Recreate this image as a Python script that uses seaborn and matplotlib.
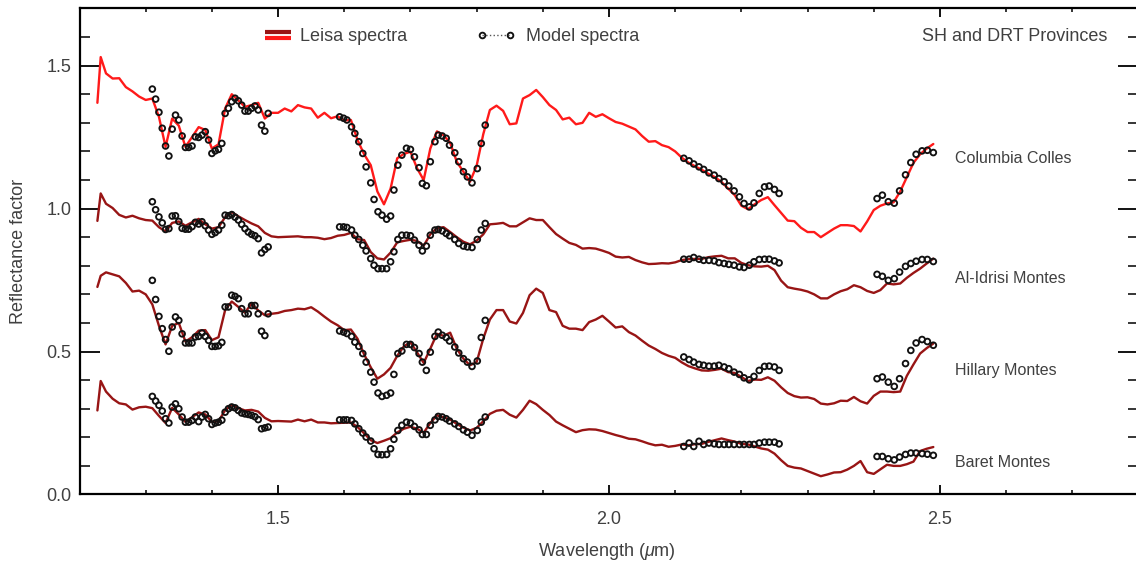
import numpy as np
import pandas as pd
import matplotlib
matplotlib.use("Agg")
import matplotlib.pyplot as plt
import seaborn as sns
from matplotlib.lines import Line2D
from matplotlib.legend_handler import HandlerBase
from matplotlib.ticker import MultipleLocator

# ---- data ----
regions = ["Columbia Colles", "Al-Idrisi Montes", "Hillary Montes", "Baret Montes"]

# LEISA wavelength samples (um)
leisa_wl = [1.227, 1.232,
            1.24, 1.25, 1.26, 1.27, 1.28, 1.29,
            1.30, 1.31, 1.32, 1.33, 1.34, 1.35, 1.36, 1.37, 1.38, 1.39,
            1.40, 1.41, 1.42, 1.43, 1.44, 1.45, 1.46, 1.47, 1.48, 1.49,
            1.50, 1.51, 1.52, 1.53, 1.54, 1.55, 1.56, 1.57, 1.58, 1.59,
            1.60, 1.61, 1.62, 1.63, 1.64, 1.65, 1.66, 1.67, 1.68, 1.69,
            1.70, 1.71, 1.72, 1.73, 1.74, 1.75, 1.76, 1.77, 1.78, 1.79,
            1.80, 1.81, 1.82, 1.83, 1.84, 1.85, 1.86, 1.87, 1.88, 1.89,
            1.90, 1.91, 1.92, 1.93, 1.94, 1.95, 1.96, 1.97, 1.98, 1.99,
            2.00, 2.01, 2.02, 2.03, 2.04, 2.05, 2.06, 2.07, 2.08, 2.09,
            2.10, 2.11, 2.12, 2.13, 2.14, 2.15, 2.16, 2.17, 2.18, 2.19,
            2.20, 2.21, 2.22, 2.23, 2.24, 2.25, 2.26, 2.27, 2.28, 2.29,
            2.30, 2.31, 2.32, 2.33, 2.34, 2.35, 2.36, 2.37, 2.38, 2.39,
            2.40, 2.41, 2.42, 2.43, 2.44, 2.45, 2.46, 2.47, 2.48, 2.49]

columbia_leisa = [1.37, 1.53,
                  1.473, 1.455, 1.456, 1.425, 1.41, 1.392,
                  1.38, 1.385, 1.321, 1.216, 1.315, 1.29, 1.216, 1.25, 1.285, 1.275,
                  1.21, 1.225, 1.35, 1.40, 1.378, 1.356, 1.362, 1.37, 1.315, 1.335,
                  1.335, 1.35, 1.34, 1.362, 1.354, 1.35, 1.318, 1.335, 1.316, 1.323,
                  1.308, 1.31, 1.24, 1.19, 1.152, 1.06, 1.015, 1.07, 1.176, 1.191,
                  1.199, 1.141, 1.10, 1.21, 1.27, 1.257, 1.23, 1.164, 1.129, 1.094,
                  1.15, 1.26, 1.345, 1.36, 1.342, 1.295, 1.298, 1.385, 1.397, 1.415,
                  1.39, 1.362, 1.345, 1.312, 1.318, 1.295, 1.30, 1.335, 1.321, 1.33,
                  1.316, 1.303, 1.297, 1.287, 1.277, 1.254, 1.234, 1.236, 1.222, 1.215,
                  1.20, 1.178, 1.161, 1.148, 1.136, 1.122, 1.11, 1.093, 1.07, 1.047,
                  1.01, 0.998, 1.015, 1.03, 1.04, 1.012, 0.985, 0.958, 0.956, 0.933,
                  0.918, 0.918, 0.90, 0.915, 0.93, 0.942, 0.942, 0.939, 0.92, 0.955,
                  0.995, 1.01, 1.018, 1.022, 1.06, 1.11, 1.16, 1.19, 1.21, 1.226]

idrisi_leisa = [0.957, 1.053,
                1.017, 1.002, 0.978, 0.969, 0.975, 0.966,
                0.96, 0.958, 0.935, 0.92, 0.95, 0.955, 0.94, 0.952, 0.964, 0.945,
                0.93, 0.935, 0.97, 0.988, 0.973, 0.96, 0.948, 0.938, 0.915, 0.903,
                0.90, 0.901, 0.902, 0.903, 0.90, 0.90, 0.898, 0.893, 0.897, 0.905,
                0.908, 0.915, 0.893, 0.89, 0.848, 0.826, 0.822, 0.846, 0.882, 0.887,
                0.891, 0.887, 0.87, 0.91, 0.932, 0.935, 0.918, 0.90, 0.884, 0.875,
                0.888, 0.91, 0.945, 0.947, 0.95, 0.938, 0.938, 0.952, 0.966, 0.96,
                0.96, 0.935, 0.911, 0.895, 0.88, 0.873, 0.86, 0.862, 0.86, 0.853,
                0.845, 0.832, 0.829, 0.831, 0.82, 0.812, 0.806, 0.807, 0.809, 0.808,
                0.812, 0.82, 0.823, 0.824, 0.824, 0.83, 0.833, 0.835, 0.826, 0.826,
                0.81, 0.802, 0.798, 0.797, 0.80, 0.785, 0.748, 0.725, 0.72, 0.716,
                0.71, 0.70, 0.686, 0.686, 0.70, 0.711, 0.718, 0.732, 0.725, 0.712,
                0.705, 0.715, 0.738, 0.735, 0.738, 0.758, 0.775, 0.79, 0.808, 0.825]

hillary_leisa = [0.726, 0.765,
                 0.777, 0.77, 0.763, 0.74, 0.71, 0.713,
                 0.70, 0.665, 0.59, 0.525, 0.59, 0.60, 0.535, 0.55, 0.573, 0.575,
                 0.54, 0.55, 0.645, 0.675, 0.656, 0.636, 0.668, 0.644, 0.627, 0.632,
                 0.635, 0.642, 0.645, 0.65, 0.648, 0.655, 0.64, 0.622, 0.605, 0.592,
                 0.575, 0.577, 0.545, 0.49, 0.445, 0.405, 0.42, 0.443, 0.485, 0.518,
                 0.533, 0.497, 0.46, 0.51, 0.562, 0.555, 0.566, 0.51, 0.475, 0.452,
                 0.463, 0.545, 0.612, 0.645, 0.645, 0.605, 0.598, 0.635, 0.697, 0.72,
                 0.705, 0.645, 0.638, 0.59, 0.58, 0.58, 0.575, 0.603, 0.612, 0.625,
                 0.605, 0.584, 0.588, 0.568, 0.556, 0.538, 0.521, 0.509, 0.495, 0.485,
                 0.478, 0.462, 0.449, 0.441, 0.434, 0.433, 0.436, 0.44, 0.428, 0.425,
                 0.411, 0.397, 0.402, 0.401, 0.41, 0.398, 0.375, 0.355, 0.344, 0.339,
                 0.34, 0.334, 0.318, 0.315, 0.319, 0.328, 0.327, 0.341, 0.326, 0.318,
                 0.345, 0.36, 0.36, 0.358, 0.36, 0.415, 0.455, 0.493, 0.512, 0.528]

baret_leisa = [0.294, 0.397,
               0.36, 0.335, 0.319, 0.315, 0.297, 0.305,
               0.307, 0.302, 0.275, 0.25, 0.303, 0.28, 0.254, 0.27, 0.287, 0.28,
               0.254, 0.256, 0.295, 0.313, 0.302, 0.294, 0.296, 0.29, 0.268, 0.256,
               0.257, 0.256, 0.255, 0.262, 0.256, 0.262, 0.252, 0.252, 0.249, 0.25,
               0.251, 0.252, 0.236, 0.214, 0.19, 0.18, 0.188, 0.197, 0.217, 0.23,
               0.237, 0.23, 0.216, 0.25, 0.277, 0.27, 0.262, 0.247, 0.234, 0.224,
               0.233, 0.256, 0.282, 0.293, 0.296, 0.279, 0.269, 0.296, 0.328, 0.316,
               0.296, 0.278, 0.255, 0.242, 0.23, 0.218, 0.225, 0.228, 0.227, 0.222,
               0.215, 0.208, 0.202, 0.195, 0.193, 0.186, 0.178, 0.172, 0.174, 0.167,
               0.17, 0.175, 0.172, 0.176, 0.177, 0.184, 0.19, 0.196, 0.19, 0.185,
               0.177, 0.175, 0.168, 0.161, 0.157, 0.143, 0.12, 0.10, 0.094, 0.091,
               0.082, 0.073, 0.064, 0.07, 0.077, 0.078, 0.087, 0.10, 0.117, 0.078,
               0.072, 0.088, 0.104, 0.10, 0.10, 0.106, 0.115, 0.152, 0.16, 0.166]

# model wavelengths (um), four windows
model_wl = [1.310, 1.315, 1.320, 1.325, 1.330, 1.335, 1.340, 1.345, 1.350, 1.355,
            1.360, 1.365, 1.370, 1.375, 1.380, 1.385, 1.390, 1.395, 1.400, 1.405,
            1.410, 1.415, 1.420, 1.425, 1.430, 1.435, 1.440, 1.445, 1.450, 1.455,
            1.460, 1.465, 1.470, 1.475, 1.480, 1.485,
            1.593, 1.599, 1.604, 1.611, 1.616, 1.622, 1.628, 1.633, 1.640, 1.645,
            1.651, 1.657, 1.664, 1.670, 1.675, 1.681, 1.687, 1.694, 1.700, 1.706,
            1.713, 1.718, 1.724, 1.730, 1.737, 1.742, 1.748, 1.754, 1.759, 1.767,
            1.773, 1.780, 1.786, 1.793, 1.801, 1.807, 1.813,
            2.113, 2.121, 2.128, 2.136, 2.143, 2.151, 2.159, 2.166, 2.174, 2.181,
            2.189, 2.197, 2.204, 2.212, 2.219, 2.227, 2.235, 2.242, 2.250, 2.257,
            2.405, 2.413, 2.422, 2.431, 2.439, 2.448, 2.456, 2.464, 2.473, 2.481, 2.490]

columbia_model = [1.418, 1.383, 1.337, 1.281, 1.219, 1.184, 1.278, 1.327, 1.310, 1.254,
                  1.214, 1.214, 1.219, 1.251, 1.249, 1.257, 1.269, 1.240, 1.193, 1.202,
                  1.207, 1.228, 1.333, 1.351, 1.374, 1.386, 1.377, 1.362, 1.341, 1.341,
                  1.351, 1.359, 1.345, 1.292, 1.271, 1.333,
                  1.321, 1.316, 1.310, 1.286, 1.263, 1.234, 1.193, 1.146, 1.090, 1.032,
                  0.989, 0.977, 0.963, 0.974, 1.065, 1.152, 1.187, 1.211, 1.207, 1.181,
                  1.143, 1.088, 1.080, 1.164, 1.234, 1.257, 1.254, 1.246, 1.222, 1.195,
                  1.164, 1.129, 1.111, 1.090, 1.140, 1.228, 1.292,
                  1.176, 1.167, 1.156, 1.146, 1.137, 1.125, 1.117, 1.105, 1.094, 1.079,
                  1.062, 1.041, 1.018, 1.006, 1.020, 1.053, 1.076, 1.079, 1.067, 1.053,
                  1.035, 1.047, 1.024, 1.019, 1.062, 1.118, 1.161, 1.19, 1.202, 1.204, 1.196]

idrisi_model = [1.024, 0.996, 0.971, 0.950, 0.927, 0.93, 0.974, 0.975, 0.955, 0.931,
                0.928, 0.928, 0.937, 0.952, 0.946, 0.954, 0.94, 0.925, 0.91, 0.916,
                0.925, 0.942, 0.977, 0.975, 0.979, 0.97, 0.96, 0.945, 0.93, 0.918,
                0.91, 0.905, 0.895, 0.845, 0.857, 0.866,
                0.936, 0.936, 0.934, 0.925, 0.907, 0.892, 0.872, 0.852, 0.825, 0.802,
                0.790, 0.790, 0.790, 0.814, 0.849, 0.892, 0.907, 0.907, 0.905, 0.890,
                0.872, 0.852, 0.869, 0.907, 0.925, 0.927, 0.922, 0.913, 0.905, 0.892,
                0.878, 0.869, 0.866, 0.864, 0.892, 0.925, 0.948,
                0.823, 0.823, 0.829, 0.823, 0.819, 0.819, 0.817, 0.811, 0.808, 0.805,
                0.802, 0.796, 0.794, 0.802, 0.814, 0.822, 0.823, 0.823, 0.817, 0.810,
                0.770, 0.763, 0.749, 0.755, 0.778, 0.798, 0.808, 0.816, 0.822, 0.822, 0.815]

hillary_model = [0.749, 0.682, 0.623, 0.58, 0.542, 0.501, 0.586, 0.621, 0.609, 0.562,
                 0.53, 0.53, 0.53, 0.551, 0.553, 0.565, 0.553, 0.539, 0.518, 0.518,
                 0.52, 0.532, 0.656, 0.656, 0.697, 0.693, 0.685, 0.65, 0.632, 0.632,
                 0.661, 0.661, 0.632, 0.571, 0.556, 0.632,
                 0.572, 0.568, 0.563, 0.553, 0.533, 0.518, 0.493, 0.463, 0.428, 0.393,
                 0.355, 0.343, 0.347, 0.355, 0.420, 0.493, 0.502, 0.525, 0.525, 0.514,
                 0.493, 0.463, 0.434, 0.498, 0.553, 0.568, 0.557, 0.549, 0.537, 0.516,
                 0.495, 0.475, 0.463, 0.448, 0.467, 0.549, 0.609,
                 0.481, 0.472, 0.463, 0.455, 0.452, 0.449, 0.449, 0.452, 0.446, 0.440,
                 0.428, 0.420, 0.408, 0.401, 0.413, 0.434, 0.448, 0.449, 0.446, 0.434,
                 0.405, 0.411, 0.393, 0.378, 0.405, 0.458, 0.504, 0.53, 0.542, 0.535, 0.522]

baret_model = [0.343, 0.327, 0.312, 0.292, 0.265, 0.25, 0.306, 0.317, 0.300, 0.271,
               0.253, 0.253, 0.259, 0.271, 0.255, 0.271, 0.28, 0.265, 0.245, 0.25,
               0.253, 0.26, 0.288, 0.300, 0.306, 0.303, 0.294, 0.285, 0.282, 0.28,
               0.277, 0.272, 0.262, 0.23, 0.233, 0.236,
               0.261, 0.261, 0.261, 0.259, 0.247, 0.230, 0.215, 0.201, 0.187, 0.160,
               0.140, 0.139, 0.140, 0.160, 0.193, 0.224, 0.242, 0.253, 0.250, 0.238,
               0.226, 0.210, 0.210, 0.242, 0.261, 0.273, 0.271, 0.265, 0.257, 0.247,
               0.238, 0.226, 0.218, 0.207, 0.224, 0.253, 0.271,
               0.168, 0.180, 0.168, 0.186, 0.175, 0.180, 0.177, 0.175, 0.175, 0.175,
               0.175, 0.175, 0.175, 0.175, 0.175, 0.180, 0.183, 0.183, 0.183, 0.177,
               0.133, 0.133, 0.125, 0.121, 0.131, 0.14, 0.145, 0.145, 0.143, 0.141, 0.137]

# where the region names sit (data coords)
label_x = 2.522
label_y = [1.176, 0.756, 0.434, 0.112]

# ---- style ----
sns.set_style("ticks")
plt.rcParams["font.family"] = ["Liberation Sans", "DejaVu Sans"]
plt.rcParams["mathtext.fontset"] = "custom"
plt.rcParams["mathtext.rm"] = "Liberation Sans"
plt.rcParams["mathtext.it"] = "Liberation Sans:italic"

text_col = "#404040"
bright_red = "#ff1a1a"
dark_red = "#981515"
line_colors = {"Columbia Colles": bright_red, "Al-Idrisi Montes": dark_red,
               "Hillary Montes": dark_red, "Baret Montes": dark_red}

leisa = pd.DataFrame({
    "wavelength": np.tile(leisa_wl, len(regions)),
    "reflectance": np.concatenate([columbia_leisa, idrisi_leisa, hillary_leisa, baret_leisa]),
    "region": np.repeat(regions, len(leisa_wl)),
})
model = pd.DataFrame({
    "wavelength": np.tile(model_wl, len(regions)),
    "reflectance": np.concatenate([columbia_model, idrisi_model, hillary_model, baret_model]),
    "region": np.repeat(regions, len(model_wl)),
})

fig = plt.figure(figsize=(11.36, 5.65), dpi=100)
ax = fig.add_axes([0.070, 0.1248, 0.9322, 0.8602])

sns.lineplot(data=leisa, x="wavelength", y="reflectance", hue="region",
             palette=line_colors, estimator=None, sort=False, linewidth=1.7,
             legend=False, ax=ax)
sns.scatterplot(data=model, x="wavelength", y="reflectance", marker="o", s=17,
                facecolor="none", edgecolor="#111111", linewidth=1.35,
                legend=False, ax=ax, zorder=3)

for name, y in zip(regions, label_y):
    ax.text(label_x, y, name, fontsize=11.5, color=text_col, ha="left", va="center")

ax.set_xlim(1.2, 2.8)
ax.set_ylim(0, 1.7)
ax.xaxis.set_major_locator(MultipleLocator(0.5))
ax.xaxis.set_minor_locator(MultipleLocator(0.1))
ax.yaxis.set_major_locator(MultipleLocator(0.5))
ax.yaxis.set_minor_locator(MultipleLocator(0.1))

ax.tick_params(axis="both", which="both", direction="in", top=True, right=True,
               color="black", labelcolor=text_col, labelsize=13)
ax.tick_params(axis="x", which="major", length=6.5, width=1.3, pad=12)
ax.tick_params(axis="x", which="minor", length=3.2, width=1.1)
ax.tick_params(axis="y", which="major", length=14.5, width=1.3, pad=6)
ax.tick_params(axis="y", which="minor", length=7.2, width=1.1)
for sp in ax.spines.values():
    sp.set_color("black")
    sp.set_linewidth(1.6)

ax.set_xlabel("Wavelength ($\\mu$m)", fontsize=13, color=text_col)
ax.set_ylabel("Reflectance factor", fontsize=13, color=text_col)
ax.xaxis.set_label_coords(0.498, -0.095)
ax.yaxis.set_label_coords(-0.05, 0.5)


# legend icon: two stacked bars (dark red over red)
class TwinBarHandler(HandlerBase):
    def create_artists(self, legend, orig_handle, xdescent, ydescent,
                       width, height, fontsize, trans):
        x0, x1 = -xdescent, width - xdescent
        top = Line2D([x0, x1], [height * 0.78 - ydescent] * 2, color=dark_red,
                     lw=3.0, solid_capstyle="butt", transform=trans)
        bottom = Line2D([x0, x1], [height * 0.24 - ydescent] * 2, color=bright_red,
                        lw=3.0, solid_capstyle="butt", transform=trans)
        return [top, bottom]


leisa_handle = Line2D([], [], color=bright_red)
leg1 = ax.legend([leisa_handle], ["Leisa spectra"], handler_map={leisa_handle: TwinBarHandler()},
                 loc="center left", bbox_to_anchor=(0.1752, 0.9414), frameon=False,
                 fontsize=13, labelcolor=text_col, handlelength=1.44, handletextpad=0.5,
                 borderpad=0, borderaxespad=0)
ax.add_artist(leg1)

model_handle = Line2D([], [], color="#555555", linestyle=":", linewidth=1.0, marker="o",
                      markersize=4.1, markerfacecolor="none", markeredgecolor="#111111",
                      markeredgewidth=1.35)
ax.legend([model_handle], ["Model spectra"], loc="center left",
          bbox_to_anchor=(0.3745, 0.9414), frameon=False, fontsize=13,
          labelcolor=text_col, handlelength=2.15, handletextpad=0.6, numpoints=2,
          borderpad=0, borderaxespad=0)

ax.text(0.971, 0.9414, "SH and DRT Provinces", transform=ax.transAxes, ha="right",
        va="center", fontsize=13, color=text_col)

fig.savefig("out.png", dpi=100)
